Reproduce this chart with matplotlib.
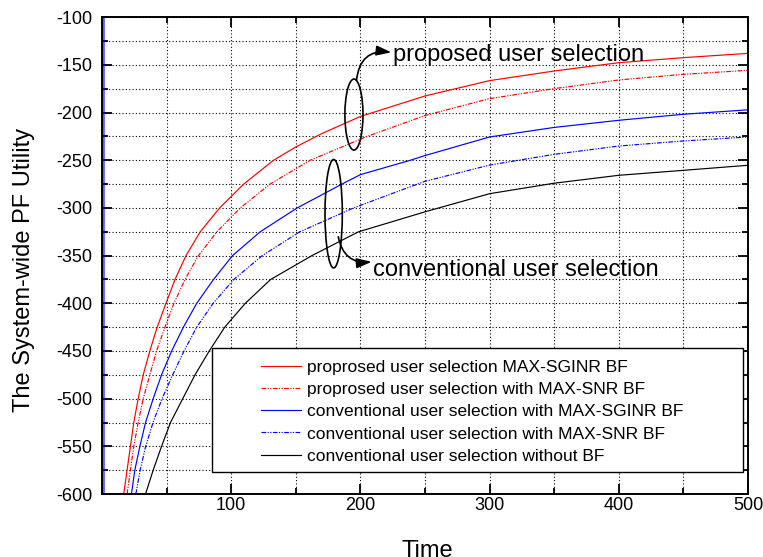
import matplotlib
matplotlib.use("Agg")
import matplotlib.pyplot as plt
from matplotlib.patches import Ellipse, Rectangle

plt.rcParams['font.family'] = ['Liberation Sans', 'DejaVu Sans']
plt.rcParams['axes.unicode_minus'] = False

# ---- data ----
t_red = [16.8, 19.4, 22, 24.6, 28, 31.9, 37, 42.7, 49.5, 56.5, 65, 76, 91, 109.6, 132.7,
         150, 170, 200, 250, 300, 350, 400, 450, 500]
v_red = [-600, -575, -550, -525, -500, -475, -450, -425, -400, -375, -350, -325, -300, -275, -250,
         -236, -222, -204, -182.5, -166.4, -156.3, -147.6, -142.3, -137.8]

t_red_snr = [19.4, 22, 24.6, 28, 31.9, 37, 42.2, 48.7, 55.7, 64.2, 74.6, 88.9, 107, 130, 161,
             205, 250, 300, 350, 400, 450, 500]
v_red_snr = [-600, -575, -550, -525, -500, -475, -450, -425, -400, -375, -350, -325, -300, -275, -250,
             -225, -203, -185.3, -174.8, -165.7, -159.8, -155.6]

t_blue = [1.5, 1.6, 22.8, 25.4, 29.3, 33.7, 39.6, 46.1, 53.9, 63, 73.3, 86.3, 101, 122.4, 151,
          185.6, 200, 238.5, 250, 300, 350, 400, 450, 500]
v_blue = [0, -3000, -600, -575, -550, -525, -500, -475, -450, -425, -400, -375, -350, -325, -300,
          -275, -265, -250, -245, -225.5, -215.5, -208, -201.7, -197]

t_blue_snr = [26.2, 29.5, 33.8, 39.5, 46.5, 54.7, 63.5, 73.3, 86, 102, 124, 153,
              194.6, 250, 300, 350, 400, 450, 500]
v_blue_snr = [-600, -575, -550, -525, -500, -475, -450, -425, -400, -375, -350, -325,
              -300, -272, -255, -243.7, -235, -229.7, -225.5]

t_black = [33.7, 39.6, 46.1, 53, 62.5, 72, 83, 95, 110.9, 130.5, 162.4,
           198.5, 250, 300, 350, 400, 450, 500]
v_black = [-600, -575, -550, -525, -500, -475, -450, -425, -400, -375, -350,
           -325, -304, -285, -274, -265.7, -260.5, -255.2]

labels = ["proprosed user selection MAX-SGINR BF",
          "proprosed user selection with MAX-SNR BF",
          "conventional user selection with MAX-SGINR BF",
          "conventional user selection with MAX-SNR BF",
          "conventional user selection without BF"]

x_ticks = [100, 200, 300, 400, 500]
y_ticks = [-600, -550, -500, -450, -400, -350, -300, -250, -200, -150, -100]

fig = plt.figure(figsize=(7.63, 5.57), dpi=100)
ax = fig.add_axes([0.1337, 0.1131, 0.8466, 0.8558])

dd = (0, (4, 1.2, 1, 1.2, 1, 1.2))
lw = 0.85
ax.plot(t_red, v_red, color='#ff0000', lw=lw, label=labels[0])
ax.plot(t_red_snr, v_red_snr, color='#ff0000', lw=lw, linestyle=dd, label=labels[1])
ax.plot(t_blue, v_blue, color='#0000ff', lw=lw, label=labels[2])
ax.plot(t_blue_snr, v_blue_snr, color='#0000ff', lw=lw, linestyle=dd, label=labels[3])
ax.plot(t_black, v_black, color='black', lw=lw, label=labels[4])

ax.set_xlim(0, 500)
ax.set_ylim(-600, -100)
ax.set_xticks(x_ticks)
ax.set_xticks(list(range(0, 501, 50)), minor=True)
ax.set_yticks(y_ticks)
ax.set_yticks(list(range(-600, -99, 25)), minor=True)
ax.grid(True, which='both', color='black', linestyle=(0, (1, 2)), lw=0.8)
ax.tick_params(which='both', direction='in', top=True, right=True, labelsize=13, width=1.3)
ax.tick_params(which='major', length=7)
ax.tick_params(which='minor', length=4.5)
ax.tick_params(axis='x', pad=2.5)
ax.tick_params(axis='y', pad=7)
for s in ax.spines.values():
    s.set_linewidth(1.4)

ax.set_xlabel("Time", fontsize=17)
ax.xaxis.set_label_coords(0.503, -0.0955)
ax.set_ylabel("The System-wide PF Utility", fontsize=17)
ax.yaxis.set_label_coords(-0.103, 0.47)

# annotations
ax.add_patch(Ellipse((195, -202), 14, 74.5, fill=False, edgecolor='black', lw=1.2, zorder=5))
ax.add_patch(Ellipse((179.3, -306), 13.4, 113.7, fill=False, edgecolor='black', lw=1.2, zorder=5))
ax.annotate("", xy=(224, -136.7), xytext=(197, -165.8),
            arrowprops=dict(arrowstyle='-|>,head_length=0.9,head_width=0.3', color='black', lw=1.2,
                            connectionstyle='arc3,rad=-0.5', shrinkA=0, shrinkB=0))
ax.annotate("", xy=(208.7, -356.5), xytext=(182.9, -330.2),
            arrowprops=dict(arrowstyle='-|>,head_length=0.9,head_width=0.3', color='black', lw=1.2,
                            connectionstyle='arc3,rad=0.45', shrinkA=0, shrinkB=0))
ax.text(225, -139, "proposed user selection", fontsize=17, ha='left', va='center')
ax.text(209.5, -365, "conventional user selection", fontsize=17, ha='left', va='center')

# legend box
ax.add_patch(Rectangle((0.171, 0.0468), 0.821, 0.259, transform=ax.transAxes,
                       facecolor='white', edgecolor='black', lw=1.0, zorder=6))
leg = ax.legend(loc='upper left', bbox_to_anchor=(0.2467, 0.281), frameon=False,
                fontsize=12.5, handlelength=2.3, handletextpad=0.3, labelspacing=0.4,
                borderpad=0, borderaxespad=0)
leg.set_zorder(7)

fig.savefig("out.png", dpi=100)
